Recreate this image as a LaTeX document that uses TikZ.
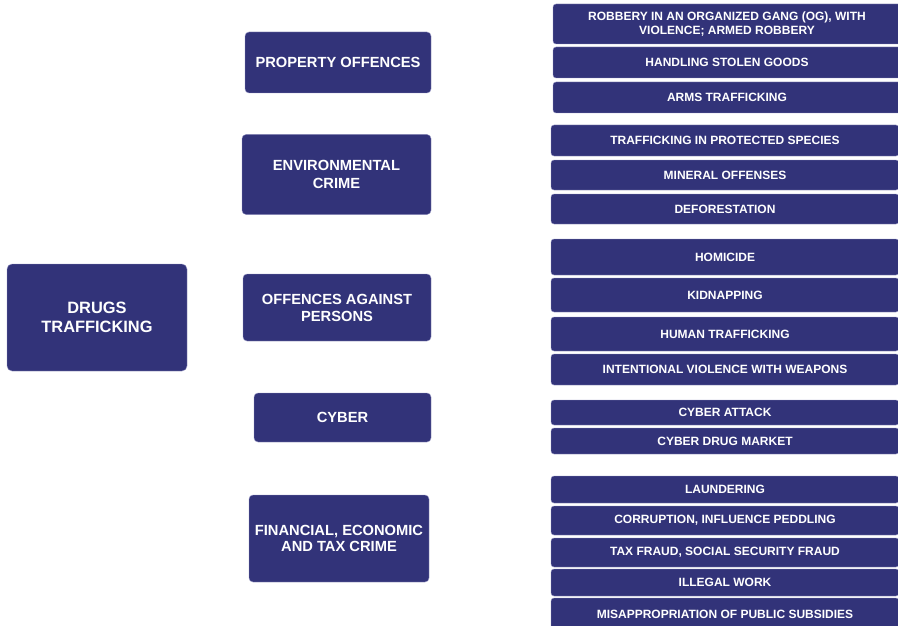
\documentclass[tikz,border=0pt]{standalone}
\usepackage{fontspec}
\setmainfont{Liberation Sans}
\definecolor{boxfill}{RGB}{50,51,121}
\definecolor{boxedge}{RGB}{150,150,196}
\begin{document}
\begin{tikzpicture}[x=1pt,y=-1pt,
  box/.style={fill=boxfill, draw=boxedge, line width=0.4pt, text=white,
    inner sep=0pt, outer sep=0pt, align=center, font=\bfseries},
  mainbox/.style={box, rounded corners=5pt, font=\bfseries\fontsize{16.4}{18.3}\selectfont},
  groupbox/.style={box, rounded corners=4pt, font=\bfseries\fontsize{14.7}{18}\selectfont},
  itembox/.style={box, rounded corners=3pt, font=\bfseries\fontsize{12}{13.3}\selectfont}]
% page frame
\clip (0,0) rectangle (898,626);
\fill[white] (0,0) rectangle (898,626);

% central offence
\node[mainbox, minimum width=180pt, minimum height=107pt] (drugs) at (97,317.5) {DRUGS\\TRAFFICKING};

% offence groups
\node[groupbox, minimum width=186pt, minimum height=61pt] (prop) at (338,62.5) {PROPERTY OFFENCES};
\node[groupbox, minimum width=189pt, minimum height=80pt] (env) at (336.5,174.5) {ENVIRONMENTAL\\CRIME};
\node[groupbox, minimum width=188pt, minimum height=67pt, font=\bfseries\fontsize{14.7}{17}\selectfont] (pers) at (337,307.5) {OFFENCES AGAINST\\PERSONS};
\node[groupbox, minimum width=177pt, minimum height=49pt] (cyber) at (342.5,417.5) {CYBER};
\node[groupbox, minimum width=180pt, minimum height=87pt, font=\bfseries\fontsize{14.7}{15.8}\selectfont] (fin) at (339,538.5) {FINANCIAL, ECONOMIC\\AND TAX CRIME};

% property offences
\node[itembox, minimum width=348pt, minimum height=40pt] (p1) at (727,24) {ROBBERY IN AN ORGANIZED GANG (OG), WITH\\VIOLENCE; ARMED ROBBERY};
\node[itembox, minimum width=348pt, minimum height=31pt] (p2) at (727,62.5) {HANDLING STOLEN GOODS};
\node[itembox, minimum width=348pt, minimum height=31pt] (p3) at (727,97.5) {ARMS TRAFFICKING};

% environmental crime
\node[itembox, minimum width=348pt, minimum height=31pt] (e1) at (725,140.5) {TRAFFICKING IN PROTECTED SPECIES};
\node[itembox, minimum width=348pt, minimum height=30pt] (e2) at (725,175) {MINERAL OFFENSES};
\node[itembox, minimum width=348pt, minimum height=30pt] (e3) at (725,209) {DEFORESTATION};

% offences against persons
\node[itembox, minimum width=348pt, minimum height=36pt] (o1) at (725,257) {HOMICIDE};
\node[itembox, minimum width=348pt, minimum height=34pt] (o2) at (725,295) {KIDNAPPING};
\node[itembox, minimum width=348pt, minimum height=34pt] (o3) at (725,334) {HUMAN TRAFFICKING};
\node[itembox, minimum width=348pt, minimum height=31pt] (o4) at (725,369.5) {INTENTIONAL VIOLENCE WITH WEAPONS};

% cyber
\node[itembox, minimum width=348pt, minimum height=25pt] (c1) at (725,412.5) {CYBER ATTACK};
\node[itembox, minimum width=348pt, minimum height=26pt] (c2) at (725,441) {CYBER DRUG MARKET};

% financial, economic and tax crime
\node[itembox, minimum width=348pt, minimum height=27pt] (f1) at (725,489.5) {LAUNDERING};
\node[itembox, minimum width=348pt, minimum height=29pt] (f2) at (725,520.5) {CORRUPTION, INFLUENCE PEDDLING};
\node[itembox, minimum width=348pt, minimum height=29pt] (f3) at (725,552.5) {TAX FRAUD, SOCIAL SECURITY FRAUD};
\node[itembox, minimum width=348pt, minimum height=27pt] (f4) at (725,582.5) {ILLEGAL WORK};
\node[itembox, minimum width=348pt, minimum height=32pt] (f5) at (725,614) {MISAPPROPRIATION OF PUBLIC SUBSIDIES};
\end{tikzpicture}
\end{document}
